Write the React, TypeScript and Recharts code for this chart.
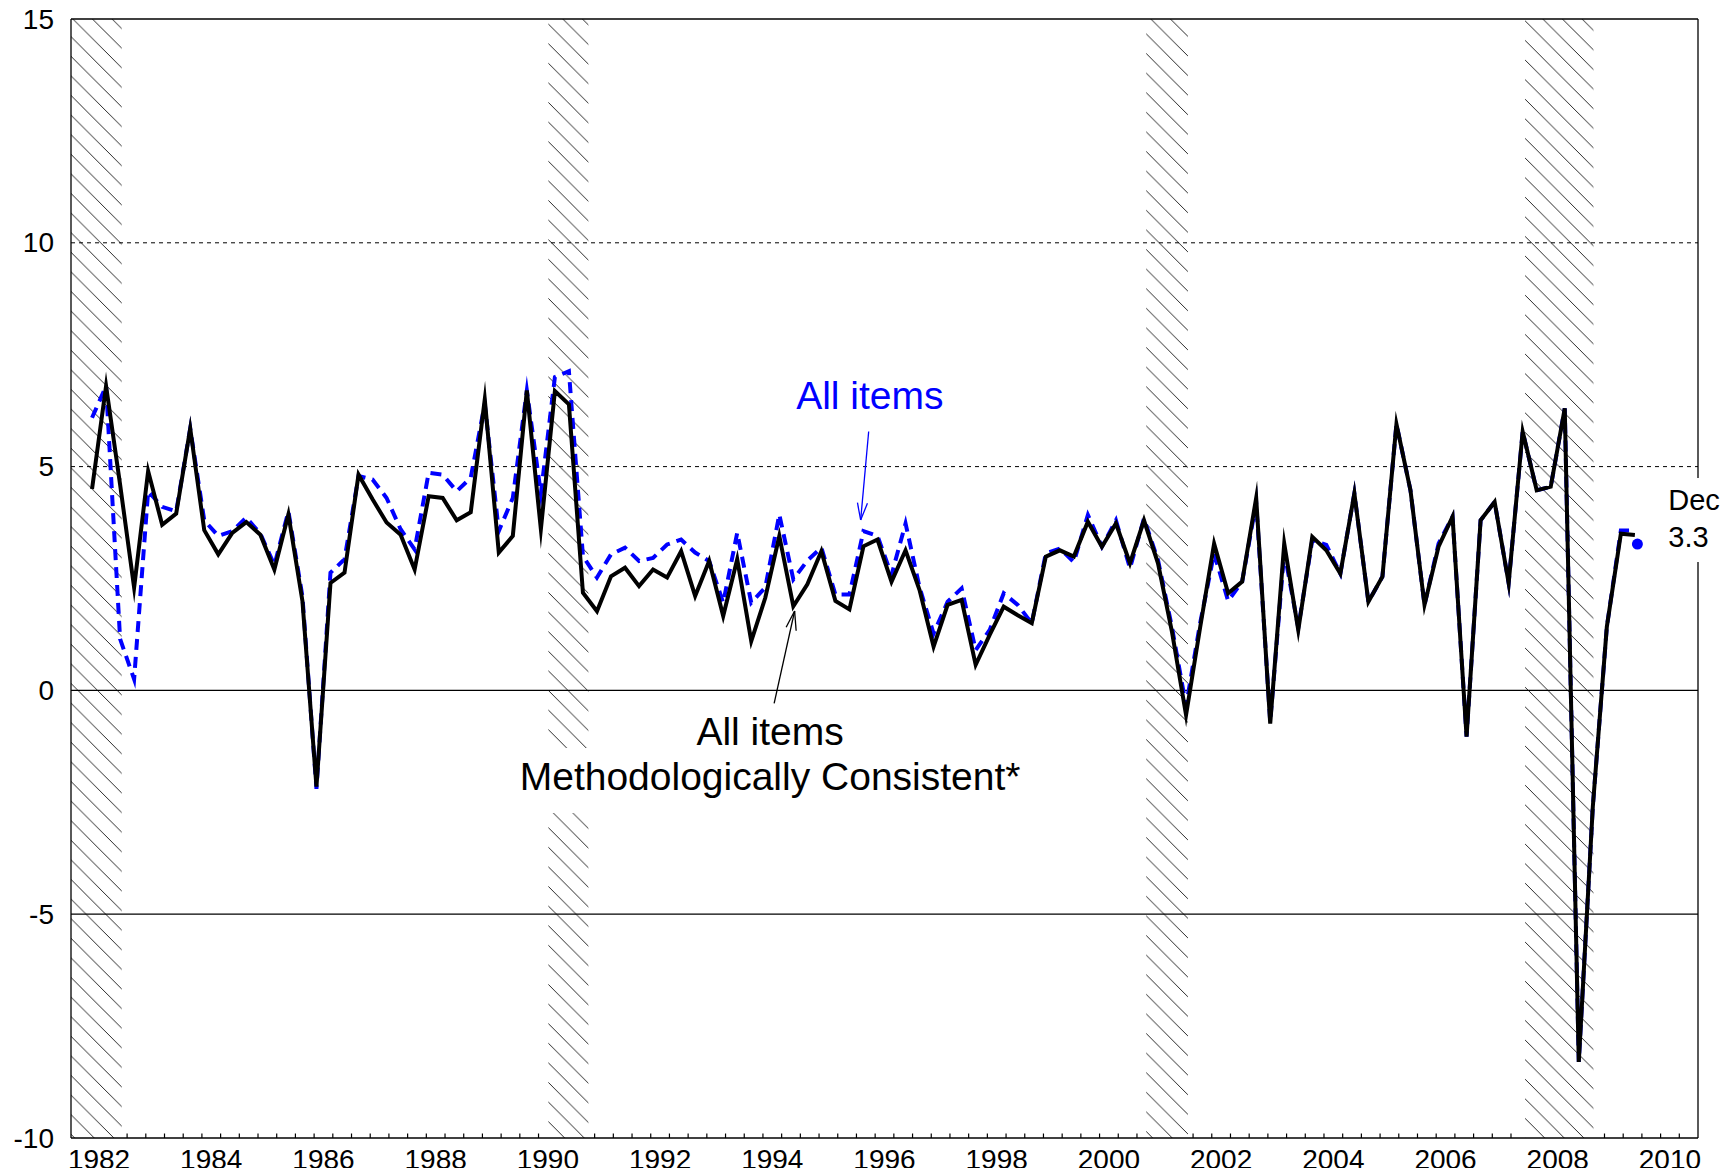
import React from 'react';
import {
  ComposedChart,
  Line,
  XAxis,
  YAxis,
  ReferenceArea,
  ReferenceLine,
  ReferenceDot,
} from 'recharts';

// ---------- DATA ----------
const firstYear = 1982;
const firstQuarter = 2; // series starts 1982 Q2, ends 2009 Q4

// All items, methodologically consistent (black solid)
const methodConsistent: number[] = [
  4.5, 6.8, 4.6,
  2.3, 4.9, 3.7, 3.95,
  5.85, 3.58, 3.04, 3.52,
  3.76, 3.48, 2.7, 3.93,
  2.0, -2.15, 2.4, 2.63,
  4.82, 4.27, 3.75, 3.48,
  2.7, 4.34, 4.3, 3.8,
  3.98, 6.5, 3.08, 3.45,
  6.7, 3.6, 6.69, 6.39,
  2.18, 1.77, 2.55, 2.74,
  2.33, 2.7, 2.52, 3.11,
  2.11, 2.89, 1.66, 2.93,
  1.1, 2.07, 3.45, 1.88,
  2.37, 3.11, 2.0, 1.81,
  3.22, 3.37, 2.43, 3.13,
  2.24, 0.98, 1.91, 2.02,
  0.57, 1.24, 1.87, 1.68,
  1.5, 2.99, 3.13, 2.99,
  3.77, 3.21, 3.73, 2.84,
  3.8, 2.84, 1.3, -0.55,
  1.4, 3.28, 2.17, 2.43,
  4.3, -0.74, 3.28, 1.35,
  3.43, 3.13, 2.61, 4.4,
  1.98, 2.54, 5.95, 4.47,
  1.91, 3.21, 3.88, -1.03,
  3.8, 4.21, 2.4, 5.78,
  4.47, 4.55, 6.3, -8.3,
  -2.6, 1.42, 3.5, 3.47,
];

// All items (blue dashed)
const allItems: number[] = [
  6.09, 6.8, 1.15,
  0.25, 4.45, 4.1, 4.0,
  5.85, 3.8, 3.45, 3.56,
  3.86, 3.5, 2.8, 4.0,
  2.1, -2.2, 2.63, 2.93,
  4.79, 4.71, 4.3, 3.6,
  3.15, 4.86, 4.82, 4.45,
  4.75, 6.4, 3.56, 4.3,
  6.7, 4.4, 7.0, 7.13,
  3.0, 2.52, 3.04, 3.19,
  2.89, 2.96, 3.26, 3.37,
  3.08, 2.89, 1.96, 3.52,
  1.96, 2.3, 3.93, 2.48,
  2.9, 3.19, 2.14, 2.14,
  3.56, 3.45, 2.58, 3.73,
  2.3, 1.27, 1.98, 2.28,
  0.9, 1.35, 2.17, 1.91,
  1.5, 3.06, 3.17, 2.87,
  3.92, 3.21, 3.8, 2.73,
  3.84, 2.91, 1.4, -0.35,
  1.5, 3.06, 2.0, 2.43,
  4.2, -0.7, 3.1, 1.4,
  3.36, 3.25, 2.61, 4.4,
  1.98, 2.54, 5.95, 4.47,
  1.91, 3.28, 3.88, -1.03,
  3.8, 4.21, 2.4, 5.78,
  4.47, 4.55, 6.3, -8.3,
  -2.6, 1.42, 3.57, 3.57,
];

// Latest monthly reading (Dec 2009)
const latestMonth = { t: 2009.92, value: 3.27, label: 'Dec', text: '3.3' };

// Recession periods (decimal years)
const recessions: [number, number][] = [
  [1982.0, 1982.904],
  [1990.509, 1991.222],
  [2001.165, 2001.908],
  [2007.918, 2009.137],
];

const yTicks = [-10, -5, 0, 5, 10, 15];
const yearLabels = [
  1982, 1984, 1986, 1988, 1990, 1992, 1994, 1996, 1998, 2000, 2002, 2004,
  2006, 2008, 2010,
];

// ---------- DERIVED ----------
const quarterLabels: string[] = methodConsistent.map((_, i) => {
  const idx = firstQuarter - 1 + i;
  return `${firstYear + Math.floor(idx / 4)}Q${(idx % 4) + 1}`;
});

const data = quarterLabels.map((q, i) => {
  const y = parseInt(q.slice(0, 4), 10);
  const qq = parseInt(q.slice(5), 10);
  return {
    q,
    t: y + (qq - 0.5) / 4,
    consistent: methodConsistent[i],
    all: allItems[i],
  };
});

const X_MIN = 1982;
const X_MAX = 2011;

const minorTicks: number[] = [];
for (let k = 1; k < (X_MAX - X_MIN) * 3; k++) {
  const v = X_MIN + k / 3;
  const inBand = recessions.some(([a, b]) => v > a - 0.02 && v < b + 0.02);
  if (!inBand) minorTicks.push(v);
}
const labelTicks = yearLabels.map((y) => y + 0.5);
const xTicks = [...minorTicks, ...labelTicks].sort((a, b) => a - b);

const FONT = '"Liberation Sans", Arial, Helvetica, sans-serif';

const isLabelTick = (v: number) => Math.abs(v - Math.floor(v) - 0.5) < 1e-6;

const XTick = (props: any) => {
  const { x, y, payload } = props;
  const v = payload.value as number;
  if (isLabelTick(v)) {
    return (
      <text
        x={x}
        y={y + 31}
        textAnchor="middle"
        fontSize={28}
        fontFamily={FONT}
        fill="#000"
      >
        {Math.floor(v)}
      </text>
    );
  }
  return <line x1={x} x2={x} y1={y} y2={y - 4.5} stroke="#000" strokeWidth={1.2} />;
};

const YTick = (props: any) => {
  const { x, y, payload } = props;
  return (
    <text
      x={x}
      y={y}
      textAnchor="end"
      dominantBaseline="central"
      fontSize={28}
      fontFamily={FONT}
      fill="#000"
    >
      {payload.value}
    </text>
  );
};

// ---------- ANNOTATIONS (data coordinates) ----------
const blueArrow = {
  from: { x: 1996.218, y: 5.784 },
  tip: { x: 1996.075, y: 3.807 },
  wingA: { x: 1996.018, y: 4.193 },
  wingB: { x: 1996.196, y: 4.18 },
};
const blackArrow = {
  from: { x: 1994.533, y: -0.288 },
  tip: { x: 1994.898, y: 1.774 },
  wingA: { x: 1994.747, y: 1.41 },
  wingB: { x: 1994.925, y: 1.334 },
};
const blueLabelPos = { x: 1994.925, y: 6.287 };
const blackLabelPos = { x: 1994.461, y: -1.22 };
const decLabelPos = { x: 2010.47, y: 4.03 };

export default function App() {
  return (
    <div style={{ width: 1727, height: 1160 }}>
      <style>{`.recharts-surface{overflow:visible}`}</style>
      <ComposedChart
        width={1727}
        height={1160}
        data={data}
        margin={{ top: 11, right: 37, bottom: 0, left: 8 }}
      >
        <defs>
          <pattern
            id="hatch"
            patternUnits="userSpaceOnUse"
            width={19.6}
            height={19.6}
          >
            <rect x={0} y={0} width={19.6} height={19.6} fill="#fff" />
            <path
              d="M-1,3.9 L15.7,20.6 M13.7,-1 L20.6,5.9"
              stroke="#111"
              strokeWidth={0.9}
              fill="none"
            />
          </pattern>
        </defs>

        <XAxis
          dataKey="t"
          type="number"
          domain={[X_MIN, X_MAX]}
          allowDataOverflow
          ticks={xTicks}
          interval={0}
          tick={<XTick />}
          tickLine={false}
          tickSize={0}
          tickMargin={0}
          height={30}
          axisLine={{ stroke: '#000', strokeWidth: 1.3 }}
        />
        <YAxis
          type="number"
          domain={[-10, 15]}
          allowDataOverflow
          ticks={yTicks}
          interval={0}
          tick={<YTick />}
          tickLine={false}
          tickSize={0}
          tickMargin={17}
          width={55}
          axisLine={{ stroke: '#000', strokeWidth: 1.3 }}
        />

        {recessions.map(([a, b], i) => (
          <ReferenceArea
            key={`rec${i}`}
            x1={a}
            x2={b}
            y1={-10}
            y2={15}
            fill="url(#hatch)"
            fillOpacity={1}
            stroke="none"
          />
        ))}

        <ReferenceLine y={10} stroke="#000" strokeWidth={1} strokeDasharray="4 4" />
        <ReferenceLine y={5} stroke="#000" strokeWidth={1} strokeDasharray="4 4" />
        <ReferenceLine y={0} stroke="#000" strokeWidth={1.3} />
        <ReferenceLine y={-5} stroke="#000" strokeWidth={1.3} />
        <ReferenceLine y={15} stroke="#000" strokeWidth={1.3} />
        <ReferenceLine x={X_MAX} stroke="#000" strokeWidth={1.3} />

        <Line
          dataKey="all"
          type="linear"
          stroke="#0000ff"
          strokeWidth={4}
          strokeDasharray="11 7"
          strokeLinejoin="miter"
          strokeMiterlimit={10}
          dot={false}
          activeDot={false}
          isAnimationActive={false}
        />
        <Line
          dataKey="consistent"
          type="linear"
          stroke="#000"
          strokeWidth={4}
          strokeLinejoin="miter"
          strokeMiterlimit={10}
          dot={false}
          activeDot={false}
          isAnimationActive={false}
        />

        {/* blue arrow */}
        <ReferenceLine segment={[blueArrow.from, blueArrow.tip]} stroke="#0000ff" strokeWidth={1.3} />
        <ReferenceLine segment={[blueArrow.wingA, blueArrow.tip]} stroke="#0000ff" strokeWidth={1.3} />
        <ReferenceLine segment={[blueArrow.wingB, blueArrow.tip]} stroke="#0000ff" strokeWidth={1.3} />
        {/* black arrow */}
        <ReferenceLine segment={[blackArrow.from, blackArrow.tip]} stroke="#000" strokeWidth={1.3} />
        <ReferenceLine segment={[blackArrow.wingA, blackArrow.tip]} stroke="#000" strokeWidth={1.3} />
        <ReferenceLine segment={[blackArrow.wingB, blackArrow.tip]} stroke="#000" strokeWidth={1.3} />

        <ReferenceDot
          x={latestMonth.t}
          y={latestMonth.value}
          r={5.5}
          fill="#0000ff"
          stroke="none"
        />

        <ReferenceDot
          x={blueLabelPos.x}
          y={blueLabelPos.y}
          r={0}
          shape={(p: any) => (
            <text x={p.cx} y={p.cy} fontSize={39} fontFamily={FONT} fill="#0000ff">
              All items
            </text>
          )}
        />
        <ReferenceDot
          x={blackLabelPos.x}
          y={blackLabelPos.y}
          r={0}
          shape={(p: any) => (
            <g>
              <rect x={p.cx - 258} y={p.cy + 3} width={516} height={65} fill="#fff" />
              <text x={p.cx} y={p.cy} textAnchor="middle" fontSize={39} fontFamily={FONT} fill="#000">
                All items
              </text>
              <text x={p.cx} y={p.cy + 45} textAnchor="middle" fontSize={39} fontFamily={FONT} fill="#000">
                Methodologically Consistent*
              </text>
            </g>
          )}
        />
        <ReferenceDot
          x={decLabelPos.x}
          y={decLabelPos.y}
          r={0}
          shape={(p: any) => (
            <g>
              <rect x={p.cx - 8} y={p.cy - 32} width={80} height={84} fill="#fff" />
              <text x={p.cx} y={p.cy} fontSize={29} fontFamily={FONT} fill="#000">
                {latestMonth.label}
              </text>
              <text x={p.cx} y={p.cy + 36.7} fontSize={29} fontFamily={FONT} fill="#000">
                {latestMonth.text}
              </text>
            </g>
          )}
        />
      </ComposedChart>
    </div>
  );
}
